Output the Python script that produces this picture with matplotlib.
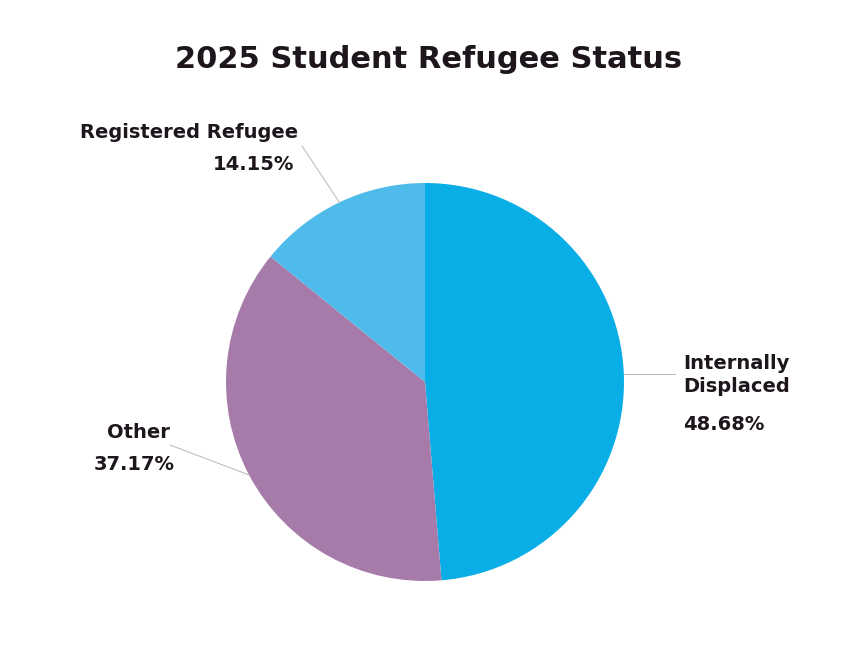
import numpy as np
import matplotlib.pyplot as plt

labels = ['Internally\nDisplaced', 'Other', 'Registered Refugee']
values = [48.68, 37.17, 14.15]
colors = ['#0aaee6', '#a67baa', '#4fbbeb']

W, H = 846, 648
fig = plt.figure(figsize=(W / 100, H / 100), dpi=100)
ax = fig.add_axes([0, 0, 1, 1])

cx, cy, r = 425, H - 382, 199
wedges, _ = ax.pie(values, colors=colors, startangle=90, counterclock=False,
                   center=(cx, cy), radius=r, frame=True,
                   wedgeprops=dict(linewidth=0))
ax.set_xlim(0, W)
ax.set_ylim(0, H)
ax.set_aspect('equal')
ax.axis('off')

dark = '#1e161d'
font = 'DejaVu Sans'
ax.text(429, H - 60, '2025 Student Refugee Status', ha='center', va='center',
        fontsize=22, fontweight='bold', color=dark, family=font)

# leader lines from each wedge's mid angle
ends = [(675, None), (170, H - 445), (302, H - 146)]
for w, end in zip(wedges, ends):
    ang = np.deg2rad((w.theta1 + w.theta2) / 2)
    x0, y0 = cx + r * np.cos(ang), cy + r * np.sin(ang)
    x1 = end[0]
    y1 = y0 if end[1] is None else end[1]
    ax.plot([x0, x1], [y0, y1], color='#b8b8b8', lw=0.7)

lab = dict(fontsize=14, fontweight='bold', color=dark, family=font)
ax.text(683, H - 375, labels[0], ha='left', va='center', linespacing=1.3, **lab)
ax.text(683, H - 424, f'{values[0]:.2f}%', ha='left', va='center', **lab)
ax.text(138, H - 433, labels[1], ha='center', va='center', **lab)
ax.text(134, H - 465, f'{values[1]:.2f}%', ha='center', va='center', **lab)
ax.text(298, H - 133, labels[2], ha='right', va='center', **lab)
ax.text(294, H - 165, f'{values[2]:.2f}%', ha='right', va='center', **lab)

fig.savefig('out.png', dpi=100, facecolor='white')
